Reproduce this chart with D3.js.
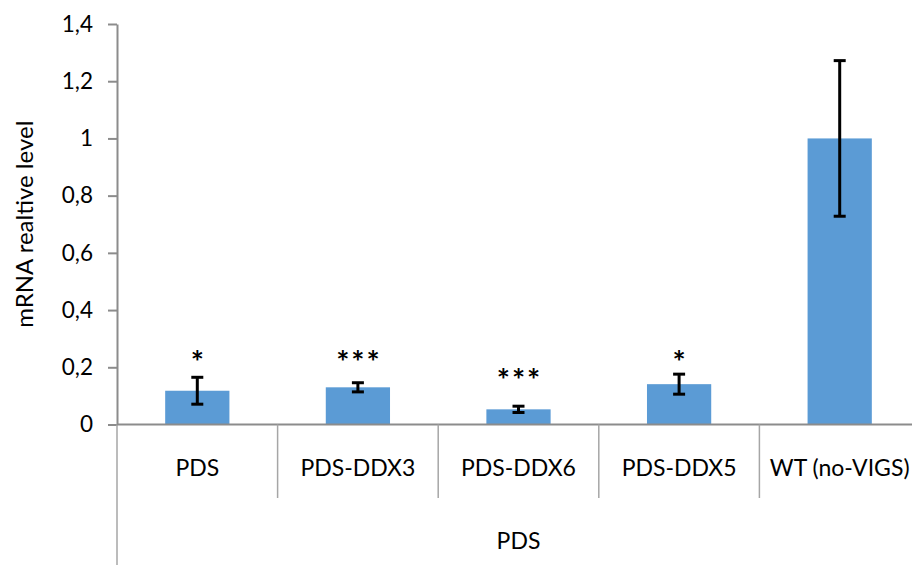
<!DOCTYPE html>
<html>
<head>
<meta charset="utf-8">
<script src="https://cdn.jsdelivr.net/npm/d3@7"></script>
<style>
  html, body { margin: 0; padding: 0; background: #fff; overflow: hidden; }
  svg { display: block; font-family: Lato, "Open Sans", sans-serif; }
</style>
</head>
<body>
<svg id="chart" width="912" height="565"></svg>
<script>
// Relative PDS mRNA level per silencing construct
const categories = ["PDS", "PDS-DDX3", "PDS-DDX6", "PDS-DDX5", "WT (no-VIGS)"];
const values = [0.118, 0.130, 0.053, 0.141, 1.0];
const errors = [0.047, 0.016, 0.011, 0.035, 0.272];
const significance = ["*", "***", "***", "*", ""];
const significanceY = [0.243, 0.243, 0.180, 0.243, 0];
const groupLabel = "PDS";
const yTicks = [0, 0.2, 0.4, 0.6, 0.8, 1.0, 1.2, 1.4];
const yTitle = "mRNA realtive level";

const svg = d3.select("#chart");
const plotLeft = 117, plotTop = 24, plotBottom = 424.5, plotRight = 920;

const x = d3.scaleBand().domain(categories).range([plotLeft, plotRight]).paddingInner(0).paddingOuter(0);
const y = d3.scaleLinear().domain([0, 1.4]).range([plotBottom, plotTop]);
const fmt = v => d3.format("~g")(+v.toFixed(1)).replace(".", ",");

const barW = x.bandwidth() * 0.4;
const axisColor = "#8c8c8c";

// bars
svg.append("g").selectAll("rect").data(categories).join("rect")
  .attr("x", d => x(d) + (x.bandwidth() - barW) / 2)
  .attr("y", (d, i) => y(values[i]))
  .attr("width", barW)
  .attr("height", (d, i) => y(0) - y(values[i]))
  .attr("fill", "#5b9bd5");

// y axis
const yAxis = svg.append("g").attr("transform", `translate(${plotLeft},0)`)
  .call(d3.axisLeft(y).tickValues(yTicks).tickFormat(fmt).tickSize(9).tickSizeOuter(0));
yAxis.select(".domain").attr("stroke", axisColor).attr("stroke-width", 2);
yAxis.selectAll(".tick line").attr("stroke", axisColor).attr("stroke-width", 2);
yAxis.selectAll(".tick text").attr("x", -24).attr("font-size", 22.5).attr("fill", "#000")
  .attr("font-family", "Lato, sans-serif");

// extension of the axis line through the category label rows
svg.append("line").attr("x1", plotLeft).attr("x2", plotLeft).attr("y1", plotBottom).attr("y2", 565)
  .attr("stroke", "#a6a6a6").attr("stroke-width", 1.5);

// horizontal category axis
svg.append("line").attr("x1", plotLeft).attr("x2", plotRight).attr("y1", plotBottom).attr("y2", plotBottom)
  .attr("stroke", axisColor).attr("stroke-width", 2.2);

// separators between categories
svg.append("g").selectAll("line").data(categories.slice(1)).join("line")
  .attr("x1", d => x(d)).attr("x2", d => x(d))
  .attr("y1", plotBottom).attr("y2", 498)
  .attr("stroke", "#a6a6a6").attr("stroke-width", 1.5);

// category labels
svg.append("g").selectAll("text").data(categories).join("text")
  .attr("x", d => x(d) + x.bandwidth() / 2)
  .attr("y", 476)
  .attr("text-anchor", "middle")
  .attr("font-size", 23)
  .text(d => d);

// group label
svg.append("text")
  .attr("x", (plotLeft + plotRight) / 2).attr("y", 549)
  .attr("text-anchor", "middle").attr("font-size", 23)
  .text(groupLabel);

// error bars
const eb = svg.append("g").attr("stroke", "#000").attr("stroke-width", 3);
categories.forEach((c, i) => {
  const cx = x(c) + x.bandwidth() / 2;
  const hi = y(values[i] + errors[i]), lo = y(values[i] - errors[i]);
  eb.append("line").attr("x1", cx).attr("x2", cx).attr("y1", hi).attr("y2", lo);
  eb.append("line").attr("x1", cx - 6).attr("x2", cx + 6).attr("y1", hi).attr("y2", hi);
  eb.append("line").attr("x1", cx - 6).attr("x2", cx + 6).attr("y1", lo).attr("y2", lo);
});

// significance marks
svg.append("g").selectAll("text").data(categories).join("text")
  .attr("x", d => x(d) + x.bandwidth() / 2 + 1)
  .attr("y", (d, i) => y(significanceY[i]) + 18)
  .attr("text-anchor", "middle")
  .attr("font-size", 31)
  .attr("font-weight", "bold")
  .attr("letter-spacing", 2)
  .text((d, i) => significance[i]);

// y axis title
svg.append("text")
  .attr("transform", `translate(33,${(plotTop + plotBottom) / 2}) rotate(-90)`)
  .attr("text-anchor", "middle").attr("font-size", 24)
  .text(yTitle);
</script>
</body>
</html>
